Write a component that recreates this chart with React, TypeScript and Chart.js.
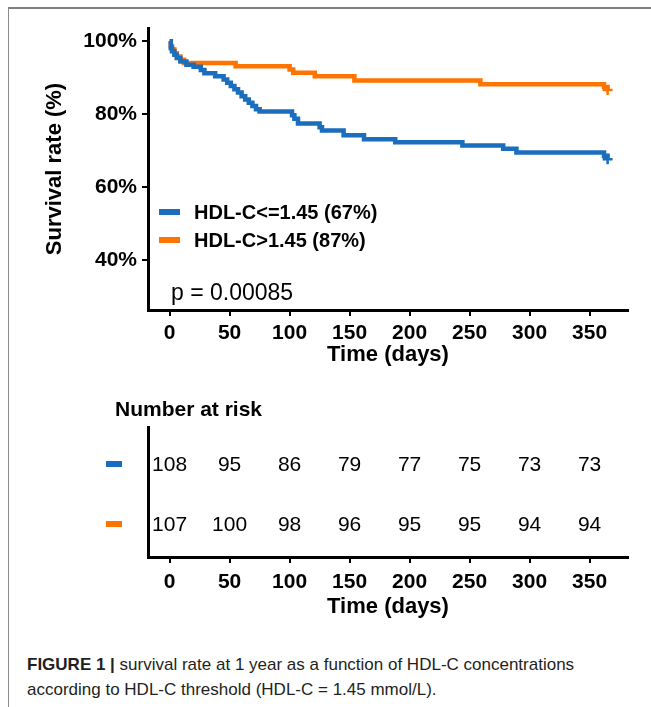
import React, { useEffect, useRef } from "react";
import { Chart, registerables } from "chart.js";

Chart.register(...registerables);

const FONT = "'Liberation Sans', Arial, sans-serif";
const CAPTION_FONT = "'Liberation Sans Narrow', 'Liberation Sans', Arial, sans-serif";
const BLUE = "#1B6DBE";
const ORANGE = "#FF7300";

// Axis ticks
const xTicks = [0, 50, 100, 150, 200, 250, 300, 350];
const yTicks = [40, 60, 80, 100];

// Group labels
const groupLabels = ["HDL-C<=1.45 (67%)", "HDL-C>1.45 (87%)"];

// Kaplan-Meier curve: HDL-C <= 1.45 (event times in days, survival %)
const blueTimes = [0, 1, 2, 4, 6, 9, 14, 20, 26, 29, 38, 45, 48, 51, 54, 57, 60, 63, 66, 69, 72, 75, 102, 104, 107, 125, 127, 145, 162, 188, 244, 278, 289, 362, 365];
const blueSurv = [100, 98.1, 97.2, 96.3, 95.4, 94.4, 93.5, 93.0, 92.1, 91.2, 90.4, 89.5, 88.6, 87.7, 86.8, 85.9, 84.9, 84.0, 83.1, 82.2, 81.3, 80.7, 79.7, 78.7, 77.4, 76.4, 75.5, 74.2, 73.1, 72.3, 71.4, 70.5, 69.5, 68.6, 67.6];

// Kaplan-Meier curve: HDL-C > 1.45
const orangeTimes = [0, 1, 2, 4, 6, 9, 12, 55, 100, 103, 121, 154, 259, 362, 365];
const orangeSurv = [100, 98.6, 97.7, 96.7, 95.8, 94.9, 94.0, 93.1, 92.2, 91.3, 90.4, 89.2, 88.2, 87.4, 86.6];

// Number at risk table
const riskBlue = [108, 95, 86, 79, 77, 75, 73, 73];
const riskOrange = [107, 100, 98, 96, 95, 95, 94, 94];

const pValueText = "p = 0.00085";
const xTitle = "Time (days)";
const yTitle = "Survival rate (%)";
const riskTitle = "Number at risk";
const captionBold = "FIGURE 1 |";
const captionLine1 = " survival rate at 1 year as a function of HDL-C concentrations";
const captionLine2 = "according to HDL-C threshold (HDL-C = 1.45 mmol/L).";

const toPoints = (t: number[], s: number[]) => t.map((x, i) => ({ x, y: s[i] }));

const xScaleBase = (titlePadBottom: number, height: number, tickPad: number) => ({
  type: "linear" as const,
  min: -18,
  max: 382,
  afterBuildTicks: (s: any) => {
    s.ticks = xTicks.map((v) => ({ value: v }));
  },
  afterFit: (s: any) => {
    s.height = height;
  },
  grid: {
    display: true,
    drawOnChartArea: false,
    drawTicks: true,
    tickLength: 6,
    color: "#000",
    lineWidth: 2,
  },
  border: { display: true, color: "#000", width: 3 },
  ticks: {
    font: { family: FONT, size: 21, weight: "bold" as const },
    color: "#000",
    padding: tickPad,
    maxRotation: 0,
    autoSkip: false,
  },
  title: {
    display: true,
    text: xTitle,
    font: { family: FONT, size: 22, weight: "bold" as const },
    color: "#000",
    padding: { top: 0, bottom: titlePadBottom },
  },
});

const mainOverlay = {
  id: "mainOverlay",
  afterDraw(chart: any) {
    const { ctx, chartArea } = chart;
    ctx.save();
    const rows = [
      { label: groupLabels[0], color: BLUE },
      { label: groupLabels[1], color: ORANGE },
    ];
    rows.forEach((r, i) => {
      const y = chartArea.top + 184 + i * 28;
      ctx.fillStyle = r.color;
      ctx.fillRect(chartArea.left + 11, y - 3, 21, 6);
      ctx.fillStyle = "#000";
      ctx.font = `bold 20px ${FONT}`;
      ctx.textBaseline = "middle";
      ctx.textAlign = "left";
      ctx.fillText(r.label, chartArea.left + 46, y + 1);
    });
    ctx.font = `23px ${FONT}`;
    ctx.fillStyle = "#000";
    ctx.textBaseline = "middle";
    ctx.fillText(pValueText, chartArea.left + 23, chartArea.top + 266);
    ctx.restore();
  },
};

const riskOverlay = {
  id: "riskOverlay",
  afterDraw(chart: any) {
    const { ctx } = chart;
    const xs = chart.scales.x;
    const ys = chart.scales.y;
    ctx.save();
    ctx.textBaseline = "middle";
    ctx.fillStyle = "#000";
    ctx.font = `bold 21px ${FONT}`;
    ctx.textAlign = "left";
    ctx.fillText(riskTitle, 115, 30);
    const rows = [
      { vals: riskBlue, color: BLUE },
      { vals: riskOrange, color: ORANGE },
    ];
    rows.forEach((r, i) => {
      const y = ys.getPixelForValue(i);
      ctx.fillStyle = r.color;
      ctx.fillRect(106, y - 4, 16, 6);
      ctx.fillStyle = "#000";
      ctx.font = `21px ${FONT}`;
      ctx.textAlign = "center";
      r.vals.forEach((v, j) => {
        ctx.fillText(String(v), xs.getPixelForValue(xTicks[j]), y);
      });
    });
    ctx.restore();
  },
};

export default function App() {
  const mainRef = useRef<HTMLCanvasElement>(null);
  const riskRef = useRef<HTMLCanvasElement>(null);

  useEffect(() => {
    const lastB = blueTimes.length - 1;
    const lastO = orangeTimes.length - 1;
    const main = new Chart(mainRef.current as HTMLCanvasElement, {
      type: "line",
      data: {
        datasets: [
          {
            label: groupLabels[0],
            data: toPoints(blueTimes, blueSurv),
            borderColor: BLUE,
            backgroundColor: BLUE,
            borderWidth: 4.5,
            stepped: true,
            fill: false,
            pointStyle: "cross",
            pointRadius: (c: any) => (c.dataIndex === lastB ? 5 : 0),
            pointBorderWidth: 2.5,
            pointBorderColor: BLUE,
          },
          {
            label: groupLabels[1],
            data: toPoints(orangeTimes, orangeSurv),
            borderColor: ORANGE,
            backgroundColor: ORANGE,
            borderWidth: 4.5,
            stepped: true,
            fill: false,
            pointStyle: "cross",
            pointRadius: (c: any) => (c.dataIndex === lastO ? 5 : 0),
            pointBorderWidth: 2.5,
            pointBorderColor: ORANGE,
          },
        ],
      },
      options: {
        responsive: false,
        animation: false,
        devicePixelRatio: 1,
        layout: { padding: { left: 0, top: 28, right: 23, bottom: 0 } },
        plugins: { legend: { display: false }, tooltip: { enabled: false } },
        scales: {
          x: xScaleBase(11.8, 70, 4.4) as any,
          y: {
            type: "linear",
            min: 26.3,
            max: 103.6,
            afterBuildTicks: (s: any) => {
              s.ticks = yTicks.map((v) => ({ value: v }));
            },
            afterFit: (s: any) => {
              s.width = 148;
            },
            grid: {
              display: true,
              drawOnChartArea: false,
              drawTicks: true,
              tickLength: 6,
              color: "#000",
              lineWidth: 2,
            },
            border: { display: true, color: "#000", width: 3 },
            ticks: {
              font: { family: FONT, size: 21, weight: "bold" },
              color: "#000",
              padding: 5,
              callback: (v: any) => `${v}%`,
            },
            title: {
              display: true,
              text: yTitle,
              font: { family: FONT, size: 22, weight: "bold" },
              color: "#000",
              padding: { top: 41.8, bottom: 0 },
            },
          },
        },
      },
      plugins: [mainOverlay],
    });

    const risk = new Chart(riskRef.current as HTMLCanvasElement, {
      type: "line",
      data: { datasets: [] },
      options: {
        responsive: false,
        animation: false,
        devicePixelRatio: 1,
        layout: { padding: { left: 0, top: 47, right: 23, bottom: 0 } },
        plugins: { legend: { display: false }, tooltip: { enabled: false } },
        scales: {
          x: xScaleBase(19.8, 83, 6.4) as any,
          y: {
            type: "linear",
            min: -0.633,
            max: 1.533,
            reverse: true,
            afterFit: (s: any) => {
              s.width = 148;
            },
            grid: { display: false },
            ticks: { display: false },
            border: { display: true, color: "#000", width: 3 },
          },
        },
      },
      plugins: [riskOverlay],
    });

    return () => {
      main.destroy();
      risk.destroy();
    };
  }, []);

  return (
    <div
      style={{
        position: "fixed",
        left: 0,
        top: 0,
        width: 651,
        height: 707,
        background: "#fff",
        overflow: "hidden",
        fontFamily: FONT,
      }}
    >
      <div
        style={{
          position: "absolute",
          left: 8,
          top: 7,
          width: 700,
          height: 720,
          borderTop: "2px solid #7f7f7f",
          borderLeft: "1px solid #8c8c8c",
        }}
      />
      <canvas
        ref={mainRef}
        width={651}
        height={380}
        style={{ position: "absolute", left: 0, top: 0, width: 651, height: 380 }}
      />
      <canvas
        ref={riskRef}
        width={651}
        height={260}
        style={{ position: "absolute", left: 0, top: 380, width: 651, height: 260 }}
      />
      <div
        style={{
          position: "absolute",
          left: 27,
          top: 652,
          fontFamily: CAPTION_FONT,
          fontSize: 17,
          lineHeight: "25px",
          color: "#231f20",
          whiteSpace: "nowrap",
        }}
      >
        <b>{captionBold}</b>
        {captionLine1}
        <br />
        {captionLine2}
      </div>
    </div>
  );
}
